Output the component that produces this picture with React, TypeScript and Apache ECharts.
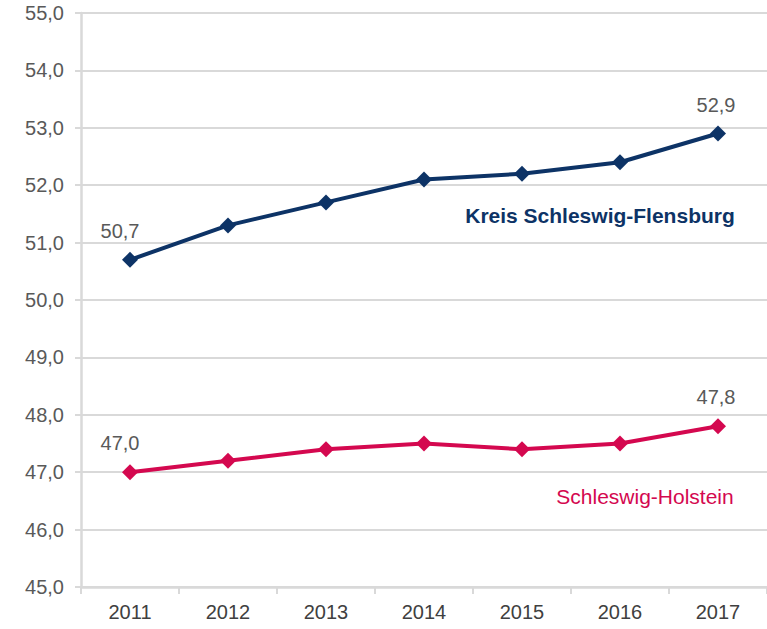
import React, { useEffect, useRef } from "react";
import * as echarts from "echarts";

const years = ["2011", "2012", "2013", "2014", "2015", "2016", "2017"];
const kreis = [50.7, 51.3, 51.7, 52.1, 52.2, 52.4, 52.9];
const sh = [47.0, 47.2, 47.4, 47.5, 47.4, 47.5, 47.8];
const kreisName = "Kreis Schleswig-Flensburg";
const shName = "Schleswig-Holstein";

const NAVY = "#0d3366";
const PINK = "#d4084f";
const FONT = "Liberation Sans, Arial, sans-serif";

const fmt = (v: number) => v.toFixed(1).replace(".", ",");

export default function App() {
  const ref = useRef<HTMLDivElement>(null);
  useEffect(() => {
    const chart = echarts.init(ref.current!, null, { renderer: "svg" });
    const endLabel = (arr: number[]) =>
      arr.map((v, i) => ({
        value: v,
        label: {
          show: i === 0 || i === arr.length - 1,
          position: "top",
          offset: i === 0 ? [-10, -6] : [-2, -6],
          formatter: (p: any) => fmt(p.value),
          color: "#595959",
          fontSize: 20,
          fontFamily: FONT,
        },
      }));
    chart.setOption({
      animation: false,
      grid: { left: 81, right: 0, top: 13, bottom: 42 },
      xAxis: {
        type: "category",
        data: years,
        boundaryGap: true,
        axisLine: { lineStyle: { color: "#d9d9d9", width: 2.5 } },
        axisTick: { show: true, length: 7, lineStyle: { color: "#d9d9d9", width: 2 } },
        axisLabel: { color: "#404040", fontSize: 20, fontFamily: FONT, margin: 15 },
      },
      yAxis: {
        type: "value",
        min: 45,
        max: 55,
        interval: 1,
        axisLine: { show: true, lineStyle: { color: "#d9d9d9", width: 2.5 } },
        axisTick: { show: true, length: 6, lineStyle: { color: "#d9d9d9", width: 2 } },
        splitLine: { lineStyle: { color: "#d9d9d9", width: 2 } },
        axisLabel: {
          color: "#595959",
          fontSize: 20,
          fontFamily: FONT,
          margin: 17,
          formatter: (v: number) => fmt(v),
        },
      },
      series: [
        {
          name: kreisName,
          type: "line",
          data: endLabel(kreis),
          symbol: "diamond",
          symbolSize: 16,
          lineStyle: { color: NAVY, width: 4 },
          itemStyle: { color: NAVY },
          z: 3,
        },
        {
          name: shName,
          type: "line",
          data: endLabel(sh),
          symbol: "diamond",
          symbolSize: 16,
          lineStyle: { color: PINK, width: 4 },
          itemStyle: { color: PINK },
          z: 3,
        },
      ],
      graphic: [
        {
          type: "text",
          x: 600,
          y: 215,
          style: {
            text: kreisName,
            fill: NAVY,
            font: `bold 21px ${FONT}`,
            textAlign: "center",
            textVerticalAlign: "middle",
          },
        },
        {
          type: "text",
          x: 645,
          y: 496,
          style: {
            text: shName,
            fill: PINK,
            font: `21px ${FONT}`,
            textAlign: "center",
            textVerticalAlign: "middle",
          },
        },
      ],
    });
    return () => chart.dispose();
  }, []);
  return <div ref={ref} style={{ width: 767, height: 629, position: "absolute", left: 0, top: 0 }} />;
}
